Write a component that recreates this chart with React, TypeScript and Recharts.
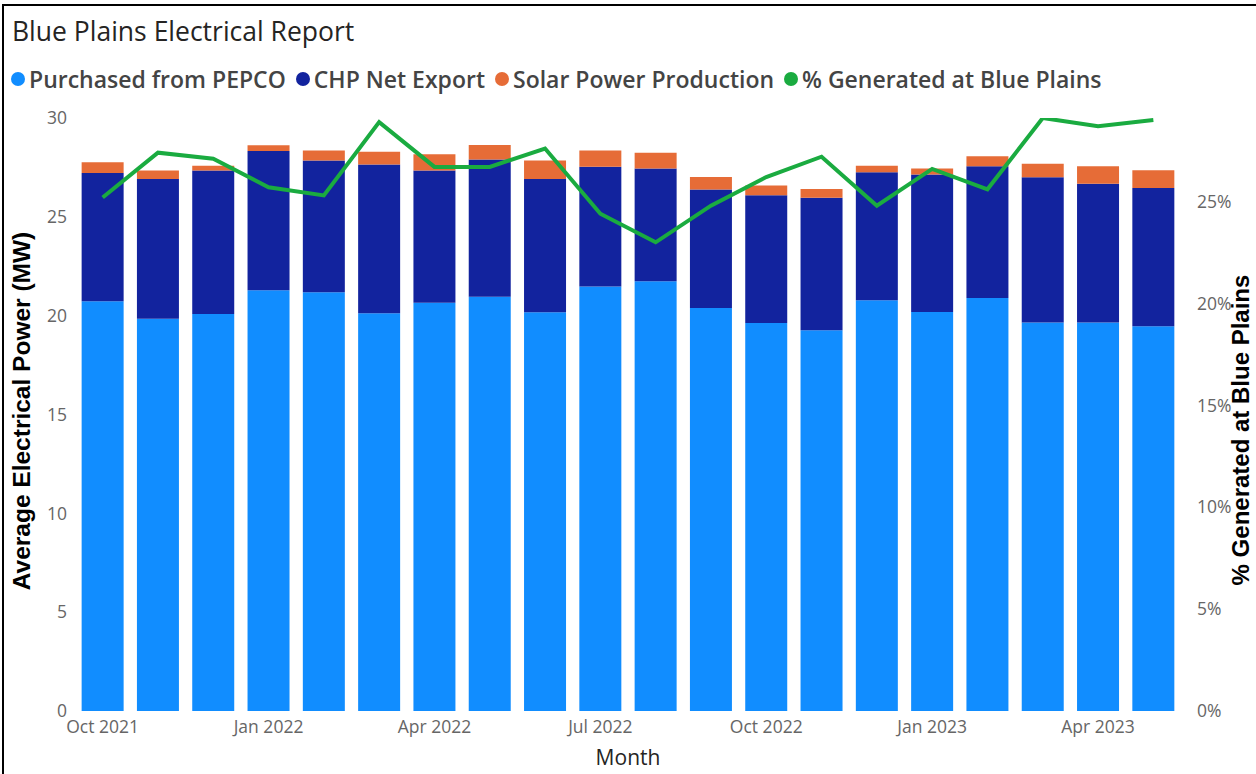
import React from 'react';
import { ComposedChart, Bar, Line, XAxis, YAxis } from 'recharts';

const months = [
  'Oct 2021', 'Nov 2021', 'Dec 2021', 'Jan 2022', 'Feb 2022', 'Mar 2022', 'Apr 2022',
  'May 2022', 'Jun 2022', 'Jul 2022', 'Aug 2022', 'Sep 2022', 'Oct 2022', 'Nov 2022',
  'Dec 2022', 'Jan 2023', 'Feb 2023', 'Mar 2023', 'Apr 2023', 'May 2023',
];
const purchased = [20.73, 19.85, 20.09, 21.28, 21.19, 20.12, 20.65, 20.96, 20.17, 21.47, 21.74, 20.39, 19.63, 19.26, 20.78, 20.19, 20.9, 19.66, 19.66, 19.46];
const chpExport = [6.49, 7.06, 7.25, 7.05, 6.66, 7.53, 6.7, 6.94, 6.74, 6.06, 5.7, 5.99, 6.46, 6.7, 6.48, 6.95, 6.66, 7.34, 7.02, 7.0];
const solar = [0.54, 0.43, 0.25, 0.29, 0.51, 0.64, 0.81, 0.73, 0.94, 0.83, 0.8, 0.64, 0.49, 0.45, 0.33, 0.3, 0.51, 0.68, 0.88, 0.9];
const pctGenerated = [25.2, 27.4, 27.1, 25.7, 25.3, 28.9, 26.7, 26.7, 27.6, 24.4, 23.0, 24.8, 26.2, 27.2, 24.8, 26.6, 25.6, 29.1, 28.7, 29.0];

const leftTicks = [0, 5, 10, 15, 20, 25, 30];
const rightTicks = [0, 5, 10, 15, 20, 25];

const data = months.map((m, i) => ({
  month: m,
  purchased: purchased[i],
  chp: chpExport[i],
  solar: solar[i],
  pct: pctGenerated[i],
}));

const COLORS = {
  purchased: '#118DFF',
  chp: '#12239E',
  solar: '#E66C37',
  pct: '#1AAB40',
};

const legendItems = [
  { name: 'Purchased from PEPCO', color: COLORS.purchased },
  { name: 'CHP Net Export', color: COLORS.chp },
  { name: 'Solar Power Production', color: COLORS.solar },
  { name: '% Generated at Blue Plains', color: COLORS.pct },
];

const font = '"Open Sans", "Noto Sans", sans-serif';
const tickStyle = { fill: '#666', fontSize: 17.5, fontFamily: font };

export default function App() {
  return (
    <div style={{ position: 'absolute', left: 0, top: 0, width: 1256, height: 774, background: '#fff', overflow: 'hidden', fontFamily: font }}>
      <div style={{ position: 'absolute', left: 2, top: 4, width: 1260, height: 780, borderTop: '2px solid #000', borderLeft: '2px solid #000' }} />
      <div style={{ position: 'absolute', left: 12, top: 13, fontSize: 26.5, color: '#252423', lineHeight: '36px' }}>
        Blue Plains Electrical Report
      </div>
      <div style={{ position: 'absolute', left: 11, top: 63, display: 'flex', alignItems: 'center', fontSize: 23, fontWeight: 600, color: '#444', lineHeight: '32px' }}>
        {legendItems.map(item => (
          <div key={item.name} style={{ display: 'flex', alignItems: 'center', marginRight: 10 }}>
            <span style={{ width: 14, height: 14, borderRadius: '50%', background: item.color, marginRight: 4 }} />
            <span>{item.name}</span>
          </div>
        ))}
      </div>

      <ComposedChart
        width={1256}
        height={774}
        data={data}
        barCategoryGap="12%"
        margin={{ top: 118, left: 15, right: 15, bottom: 33 }}
        style={{ position: 'absolute', left: 0, top: 0 }}
      >
        <XAxis
          dataKey="month"
          interval={2}
          axisLine={false}
          tickLine={false}
          height={30}
          tickMargin={4}
          tick={tickStyle}
        />
        <YAxis
          yAxisId="left"
          domain={[0, 30]}
          ticks={leftTicks}
          axisLine={false}
          tickLine={false}
          width={60}
          tick={tickStyle}
        />
        <YAxis
          yAxisId="right"
          orientation="right"
          domain={[0, 29.1]}
          ticks={rightTicks}
          allowDataOverflow
          axisLine={false}
          tickLine={false}
          width={60}
          tickMargin={10}
          tickFormatter={(v: number) => `${v}%`}
          tick={{ ...tickStyle, textAnchor: 'start' }}
        />
        <Bar yAxisId="left" dataKey="purchased" stackId="a" fill={COLORS.purchased} isAnimationActive={false} />
        <Bar yAxisId="left" dataKey="chp" stackId="a" fill={COLORS.chp} isAnimationActive={false} />
        <Bar yAxisId="left" dataKey="solar" stackId="a" fill={COLORS.solar} isAnimationActive={false} />
        <Line
          yAxisId="right"
          dataKey="pct"
          type="linear"
          stroke={COLORS.pct}
          strokeWidth={4}
          dot={false}
          activeDot={false}
          isAnimationActive={false}
        />
      </ComposedChart>

      <div style={{ position: 'absolute', left: 0, width: 1256, top: 743, textAlign: 'center', fontSize: 21, color: '#252423' }}>
        Month
      </div>
      <div style={{ position: 'absolute', left: 22, top: 411, transform: 'translate(-50%, -50%) rotate(-90deg)', whiteSpace: 'nowrap', fontFamily: '"Liberation Sans", Arial, sans-serif', fontWeight: 700, fontSize: 24.5, color: '#000' }}>
        Average Electrical Power (MW)
      </div>
      <div style={{ position: 'absolute', left: 1241, top: 430, transform: 'translate(-50%, -50%) rotate(-90deg)', whiteSpace: 'nowrap', fontFamily: '"Liberation Sans", Arial, sans-serif', fontWeight: 700, fontSize: 24, color: '#000' }}>
        % Generated at Blue Plains
      </div>
    </div>
  );
}
